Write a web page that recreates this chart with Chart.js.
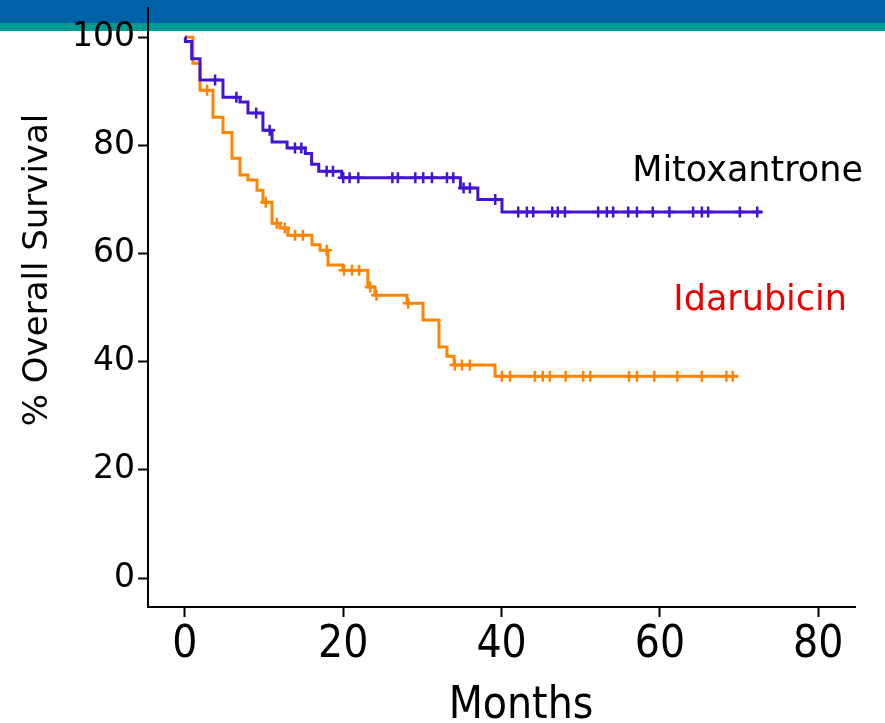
<!DOCTYPE html>
<html>
<head>
<meta charset="utf-8">
<script src="https://cdn.jsdelivr.net/npm/chart.js@4.4.1/dist/chart.umd.min.js"></script>
<style>
  html, body { margin: 0; padding: 0; background: #fff; }
  #wrap { position: relative; width: 885px; height: 723px; overflow: hidden; }
  .band-blue { position: absolute; left: 0; top: 0; width: 885px; height: 23px; background: #0062a6; }
  .band-teal { position: absolute; left: 0; top: 23px; width: 885px; height: 8px; background: #009a94; }
  canvas { position: absolute; left: 0; top: 0; }
</style>
</head>
<body>
<div id="wrap">
  <div class="band-blue"></div>
  <div class="band-teal"></div>
  <canvas id="kmChart" width="885" height="723"></canvas>
</div>
<script>
// step points (months, % surviving after the step)
const mitoTimes = [0, 0.05, 0.85, 1.9, 4.8, 6.95, 7.96, 9.85, 11.0, 12.9, 15.2, 16.0, 16.9, 19.8, 34.8, 37.0, 40.05, 72.9];
const mitoSurv  = [100, 99.2, 96.0, 92.1, 88.9, 88.0, 86.0, 82.8, 80.6, 79.5, 78.5, 76.5, 75.2, 74.0, 72.1, 70.0, 67.7, 67.7];
const mitoCensor = [3.8, 6.5, 9.0, 10.7, 13.9, 14.7, 17.9, 18.7, 20.0, 20.8, 21.9, 26.2, 26.9, 29.1, 30.1, 31.2,
  33.1, 33.9, 35.2, 36.0, 39.2, 42.1, 43.2, 44.0, 46.4, 47.1, 48.0, 52.2, 53.3, 54.1, 56.0, 57.1, 59.1, 61.2,
  64.2, 65.3, 66.1, 70.1, 72.3];

const idaTimes = [0, 1.0, 1.9, 3.54, 4.8, 5.94, 6.95, 7.96, 9.1, 9.85, 11.0, 12.0, 13.0, 16.05, 17.06, 18.07,
  19.96, 23.1, 24.0, 28.05, 30.07, 32.09, 33.1, 34.0, 39.17, 69.9];
const idaSurv  = [100, 95.2, 90.2, 85.2, 82.4, 77.6, 74.5, 73.6, 71.7, 69.5, 65.6, 64.7, 63.4, 61.6, 60.6, 57.9,
  56.9, 53.8, 52.3, 50.8, 47.7, 42.7, 41.0, 39.4, 37.3, 37.3];
const idaCensor = [2.8, 10.2, 11.6, 12.6, 13.9, 14.9, 17.9, 20.1, 21.1, 22.0, 23.4, 24.2, 28.2, 34.1, 35.0, 36.0,
  40.05, 41.06, 44.2, 45.2, 46.1, 48.1, 50.3, 51.2, 56.1, 57.1, 59.3, 62.2, 65.3, 68.4, 69.2];

const xTicks = [0, 20, 40, 60, 80];
const yTicks = [0, 20, 40, 60, 80, 100];

const mitoColor = "#4214d4";
const idaColor = "#ff8500";

function survivalAt(times, surv, t) {
    let v = surv[0];
    for (let i = 0; i < times.length; i++) {
        if (times[i] <= t) v = surv[i];
    }
    return v;
}

function toPoints(xs, ys) {
    return xs.map((x, i) => ({ x: x, y: ys[i] }));
}

function censorPoints(ct, times, surv) {
    return ct.map((t) => ({ x: t, y: survivalAt(times, surv, t) }));
}

// curve names and axis titles drawn on top
const textPlugin = {
    id: "chartText",
    afterDraw(chart) {
        const ctx = chart.ctx;
        const xs = chart.scales.x;
        const ys = chart.scales.y;
        ctx.save();
        ctx.textBaseline = "middle";
        ctx.textAlign = "left";
        ctx.font = '35px "DejaVu Sans"';
        ctx.fillStyle = "#000";
        ctx.fillText("Mitoxantrone", xs.getPixelForValue(56.5), ys.getPixelForValue(75));
        ctx.fillStyle = "#ee0000";
        ctx.fillText("Idarubicin", xs.getPixelForValue(61.7), ys.getPixelForValue(51.3));

        ctx.fillStyle = "#000";
        ctx.textAlign = "center";
        ctx.font = '44px "Liberation Sans Narrow", "DejaVu Sans Condensed", sans-serif';
        ctx.fillText("Months", 521, 707);

        ctx.translate(38, 270);
        ctx.rotate(-Math.PI / 2);
        ctx.font = '34px "DejaVu Sans"';
        ctx.fillText("% Overall Survival", 0, 0);
        ctx.restore();
    },
};

const axisGrid = {
    drawOnChartArea: false,
    drawTicks: true,
    tickLength: 10,
    tickWidth: 2,
    color: "#000",
};

new Chart(document.getElementById("kmChart").getContext("2d"), {
    type: "line",
    data: {
        datasets: [
            {
                label: "Mitoxantrone",
                data: toPoints(mitoTimes, mitoSurv),
                stepped: true,
                borderColor: mitoColor,
                borderWidth: 3,
                pointRadius: 0,
                fill: false,
            },
            {
                label: "Mitoxantrone censored",
                data: censorPoints(mitoCensor, mitoTimes, mitoSurv),
                showLine: false,
                pointStyle: "cross",
                pointRadius: 5.5,
                borderColor: mitoColor,
                borderWidth: 2.5,
            },
            {
                label: "Idarubicin",
                data: toPoints(idaTimes, idaSurv),
                stepped: true,
                borderColor: idaColor,
                borderWidth: 3,
                pointRadius: 0,
                fill: false,
            },
            {
                label: "Idarubicin censored",
                data: censorPoints(idaCensor, idaTimes, idaSurv),
                showLine: false,
                pointStyle: "cross",
                pointRadius: 5.5,
                borderColor: idaColor,
                borderWidth: 2.5,
            },
        ],
    },
    options: {
        responsive: false,
        animation: false,
        devicePixelRatio: 1,
        layout: { padding: { top: 8, right: 30, left: 0, bottom: 0 } },
        plugins: {
            legend: { display: false },
            tooltip: { enabled: false },
        },
        scales: {
            x: {
                type: "linear",
                min: -4.67,
                max: 84.65,
                afterBuildTicks: (s) => { s.ticks = xTicks.map((v) => ({ value: v })); },
                afterFit: (s) => { s.height = 116; s.paddingLeft = 0; s.paddingRight = 0; },
                grid: axisGrid,
                border: { display: true, color: "#000", width: 2 },
                ticks: {
                    color: "#000",
                    padding: 2,
                    maxRotation: 0,
                    font: { family: '"Liberation Sans Narrow", "DejaVu Sans Condensed", sans-serif', size: 44 },
                },
            },
            y: {
                type: "linear",
                min: -5.36,
                max: 105.4,
                afterBuildTicks: (s) => { s.ticks = yTicks.map((v) => ({ value: v })); },
                afterFit: (s) => { s.width = 148; s.paddingTop = 0; s.paddingBottom = 0; },
                grid: axisGrid,
                border: { display: true, color: "#000", width: 2 },
                ticks: {
                    color: "#000",
                    padding: 3,
                    font: { family: '"DejaVu Sans"', size: 33 },
                },
            },
        },
    },
    plugins: [textPlugin],
});
</script>
</body>
</html>
